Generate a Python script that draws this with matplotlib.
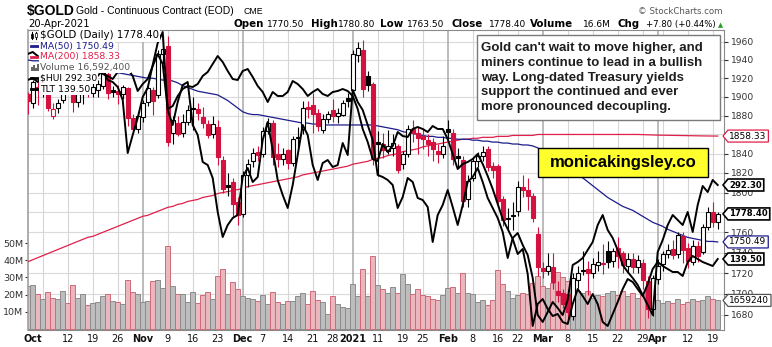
import numpy as np
import pandas as pd
import matplotlib
matplotlib.use("Agg")
import matplotlib.pyplot as plt
from matplotlib.patches import Polygon, Rectangle
from matplotlib.lines import Line2D
from matplotlib.ticker import NullLocator
from matplotlib.transforms import blended_transform_factory

W, H = 772, 347

# sessions shown (last September session sits half off the left edge)
closed = ["2020-11-26", "2020-12-25", "2021-01-01", "2021-01-18", "2021-02-15", "2021-04-02"]
dates = pd.bdate_range("2020-09-30", "2021-04-20")
dates = dates[~dates.isin(pd.to_datetime(closed))]

opens = [1903, 1893, 1910, 1906, 1920, 1880, 1888, 1897, 1930, 1925,
         1894, 1903, 1908, 1904, 1907, 1912, 1925, 1907, 1906, 1903,
         1909, 1877, 1866, 1878, 1894, 1907, 1902, 1946, 1955, 1862,
         1872, 1862, 1873, 1888, 1887, 1878, 1871, 1860, 1868, 1833,
         1808, 1811, 1790, 1778, 1818, 1832, 1842, 1840, 1864, 1872,
         1840, 1834, 1844, 1830, 1856, 1866, 1889, 1891, 1883, 1865,
         1876, 1886, 1879, 1881, 1899, 1907, 1945, 1951, 1922, 1914,
         1852, 1850, 1843, 1846, 1848, 1829, 1840, 1866, 1862, 1858,
         1854, 1852, 1843, 1840, 1866, 1862, 1838, 1833, 1793, 1815,
         1832, 1838, 1845, 1827, 1827, 1793, 1774, 1776, 1781, 1806,
         1803, 1797, 1758, 1725, 1722, 1726, 1703, 1701, 1700, 1679,
         1713, 1723, 1724, 1720, 1728, 1729, 1742, 1732, 1745, 1740,
         1727, 1734, 1726, 1730, 1712, 1685, 1714, 1729, 1739, 1744,
         1739, 1756, 1745, 1731, 1746, 1741, 1765, 1780, 1770.5]
highs = [1905, 1918, 1917, 1925, 1927, 1893, 1898, 1933, 1934, 1927,
         1906, 1912, 1916, 1918, 1918, 1932, 1928, 1912, 1913, 1913,
         1911, 1882, 1884, 1897, 1912, 1911, 1951, 1966, 1966, 1880,
         1880, 1882, 1891, 1900, 1893, 1889, 1875, 1880, 1875, 1838,
         1820, 1815, 1795, 1822, 1834, 1846, 1848, 1868, 1877, 1875,
         1851, 1846, 1845, 1858, 1868, 1895, 1895, 1904, 1887, 1882,
         1885, 1898, 1888, 1897, 1904, 1951, 1960, 1962, 1928, 1916,
         1864, 1862, 1865, 1860, 1850, 1843, 1870, 1875, 1868, 1867,
         1860, 1856, 1850, 1858, 1875, 1866, 1846, 1838, 1818, 1835,
         1842, 1848, 1848, 1831, 1829, 1797, 1784, 1790, 1812, 1818,
         1815, 1800, 1765, 1731, 1740, 1740, 1712, 1705, 1705, 1720,
         1727, 1742, 1732, 1735, 1742, 1748, 1751, 1745, 1755, 1742,
         1740, 1740, 1738, 1734, 1717, 1718, 1734, 1742, 1748, 1752,
         1760, 1760, 1749, 1752, 1751, 1768, 1785, 1790, 1780.8]
lows = [1882, 1888, 1891, 1900, 1885, 1876, 1883, 1893, 1918, 1884,
        1889, 1892, 1900, 1900, 1900, 1908, 1898, 1900, 1892, 1898,
        1869, 1860, 1862, 1873, 1890, 1881, 1899, 1935, 1848, 1850,
        1858, 1857, 1870, 1865, 1875, 1867, 1856, 1856, 1828, 1800,
        1797, 1775, 1767, 1775, 1806, 1826, 1832, 1836, 1860, 1828,
        1826, 1828, 1824, 1827, 1847, 1860, 1877, 1862, 1864, 1862,
        1872, 1873, 1872, 1879, 1889, 1904, 1938, 1900, 1906, 1828,
        1817, 1835, 1840, 1838, 1820, 1824, 1836, 1852, 1840, 1845,
        1838, 1832, 1830, 1835, 1855, 1828, 1826, 1785, 1785, 1812,
        1826, 1832, 1822, 1815, 1785, 1766, 1762, 1762, 1776, 1795,
        1782, 1770, 1717, 1715, 1718, 1705, 1692, 1686, 1676, 1675,
        1706, 1718, 1699, 1715, 1722, 1719, 1725, 1726, 1725, 1720,
        1720, 1720, 1720, 1705, 1677, 1679, 1709, 1722, 1735, 1734,
        1735, 1730, 1725, 1728, 1731, 1739, 1762, 1765, 1763.5]
closes = [1895, 1916, 1907, 1920, 1888, 1887, 1893, 1930, 1925, 1894,
          1903, 1908, 1906, 1911, 1914, 1927, 1904, 1905, 1903, 1910,
          1877, 1866, 1880, 1893, 1909, 1895, 1946, 1952, 1852, 1875,
          1861, 1873, 1886, 1887, 1883, 1872, 1859, 1871, 1836, 1804,
          1806, 1788, 1777, 1818, 1829, 1841, 1839, 1864, 1872, 1836,
          1834, 1840, 1830, 1855, 1857, 1888, 1887, 1882, 1869, 1876,
          1882, 1879, 1883, 1893, 1895, 1946, 1953, 1908, 1913, 1835,
          1850, 1844, 1848, 1851, 1823, 1840, 1866, 1862, 1856, 1855,
          1850, 1845, 1840, 1848, 1863, 1834, 1835, 1791, 1812, 1832,
          1838, 1842, 1826, 1823, 1791, 1772, 1773, 1777, 1806, 1803,
          1797, 1774, 1726, 1722, 1727, 1711, 1699, 1690, 1683, 1715,
          1720, 1722, 1720, 1729, 1731, 1730, 1731, 1742, 1737, 1728,
          1734, 1726, 1733, 1713, 1685, 1715, 1727, 1739, 1743, 1738,
          1757, 1743, 1732, 1746, 1737, 1765, 1780, 1770, 1778.4]
volume_m = [25.0, 25.7, 20.2, 17.3, 21.6, 17.8, 17.3, 22.2, 15.1, 25.7,
            18.0, 20.4, 13.7, 15.1, 15.7, 19.2, 20.4, 16.3, 15.9, 14.5,
            28.6, 21.6, 20.4, 15.7, 16.3, 28.0, 28.6, 23.9, 48.6, 25.1,
            20.4, 20.2, 15.7, 21.6, 15.1, 19.8, 21.6, 17.5, 31.0, 35.1,
            20.4, 27.5, 23.3, 19.2, 18.0, 17.5, 16.3, 19.8, 14.5, 21.6,
            15.7, 14.5, 16.3, 16.3, 19.2, 21.0, 14.5, 22.2, 16.9, 15.7,
            8.6, 19.2, 14.5, 12.7, 12.2, 26.3, 19.2, 35.1, 19.2, 42.7,
            25.7, 23.3, 21.0, 24.3, 21.2, 32.0, 26.0, 20.5, 23.5, 19.5,
            19.0, 17.5, 17.0, 20.0, 24.0, 24.5, 21.0, 32.5, 21.0, 20.5,
            15.5, 17.0, 14.0, 17.0, 34.5, 26.0, 22.0, 18.0, 20.0, 21.0,
            20.5, 27.0, 31.0, 25.0, 24.0, 27.0, 33.0, 30.0, 28.0, 27.0,
            22.0, 21.0, 22.0, 18.0, 20.0, 19.0, 21.0, 22.0, 19.5, 22.0,
            19.0, 21.0, 18.0, 20.0, 22.0, 21.0, 17.0, 15.0, 16.0, 15.0,
            17.5, 14.5, 15.5, 17.5, 16.0, 17.0, 19.0, 17.5, 16.5924]
ma50 = [1940, 1939, 1939, 1938, 1937, 1937, 1936, 1935, 1935, 1934,
        1933, 1932, 1932, 1931, 1930, 1929, 1928, 1927, 1926,
        1925, 1924, 1923, 1922, 1921, 1920, 1920, 1919, 1918, 1918,
        1917, 1915, 1912, 1910, 1908, 1906, 1905, 1904, 1903, 1902,
        1899, 1896, 1892, 1888, 1884, 1882, 1881, 1881, 1880, 1879,
        1878, 1877, 1876, 1875, 1874, 1873, 1872, 1872, 1871, 1871,
        1870, 1870, 1870, 1870, 1870, 1870, 1870, 1870, 1870, 1870,
        1870, 1869, 1868, 1867, 1866, 1865, 1863, 1862, 1861, 1860,
        1859, 1858, 1858, 1857, 1857, 1856, 1856, 1855, 1855, 1855,
        1854, 1854, 1853, 1853, 1852, 1852, 1851, 1851, 1850, 1850,
        1849, 1849, 1848, 1846, 1843, 1840, 1836, 1832, 1828, 1824,
        1821, 1818, 1815, 1811, 1807, 1803, 1799, 1795, 1792, 1789,
        1786, 1784, 1782, 1779, 1776, 1773, 1770, 1768, 1766, 1763,
        1761, 1759, 1757, 1755, 1754, 1753, 1752, 1751, 1751, 1750.49]
ma200 = [1731, 1733, 1735, 1737, 1739, 1741, 1743, 1745, 1747, 1749, 1751,
         1753, 1755, 1756, 1758, 1760, 1762, 1764, 1766, 1768, 1770,
         1772, 1774, 1776, 1777, 1779, 1781, 1783, 1785, 1786, 1788,
         1789, 1791, 1792, 1793, 1795, 1796, 1797, 1799, 1800, 1801,
         1802, 1803, 1804, 1806, 1807, 1808, 1809, 1810, 1811, 1812,
         1813, 1814, 1815, 1816, 1818, 1819, 1820, 1821, 1822, 1823,
         1824, 1825, 1826, 1827, 1829, 1830, 1831, 1832, 1834, 1835,
         1836, 1838, 1839, 1840, 1842, 1843, 1844, 1845, 1847, 1848,
         1849, 1850, 1851, 1852, 1853, 1854, 1855, 1855, 1856, 1856,
         1857, 1857, 1857, 1858, 1858, 1858, 1859, 1859, 1859, 1859,
         1859, 1860, 1860, 1860, 1860, 1860, 1860, 1860, 1860, 1860,
         1860, 1860, 1860, 1860, 1860, 1860, 1860, 1860, 1860, 1860,
         1860, 1860, 1859.8, 1859.6, 1859.5, 1859.3, 1859.2, 1859.0, 1858.9, 1858.8,
         1858.7, 1858.6, 1858.6, 1858.5, 1858.5, 1858.4, 1858.4, 1858.33]
hui = [334.3, 335.1, 333.5, 336.3, 331.1, 332.7, 334.3, 338.3, 337.5, 333.5,
       335.1, 334.3, 333.5, 335.1, 335.9, 338.3, 334.3, 333.5, 331.5, 326.3,
       305.1, 312.3, 319.1, 327.5, 331.1, 340.3, 349.1, 353.5, 322.3, 316.3,
       325.5, 332.3, 333.5, 316.3, 312.3, 301.5, 300.3, 295.1, 281.5, 271.5,
       276.3, 279.1, 280.3, 295.5, 299.1, 293.5, 295.5, 310.3, 317.5, 306.3,
       294.3, 288.3, 283.1, 292.3, 304.3, 316.3, 312.3, 300.3, 294.3, 301.1,
       302.3, 299.5, 300.3, 309.1, 304.3, 330.3, 325.5, 322.3, 316.3, 310.3,
       296.3, 295.5, 294.3, 292.3, 283.1, 287.5, 295.1, 293.5, 287.1, 286.3,
       283.5, 269.5, 280.3, 284.3, 290.3, 283.5, 276.3, 284.3, 293.5, 295.5,
       299.1, 293.5, 287.1, 283.1, 279.1, 273.5, 263.1, 271.1, 273.1, 268.3,
       264.3, 255.1, 240.3, 237.5, 241.5, 245.5, 243.1, 240.3, 246.3, 260.3,
       261.5, 263.1, 266.3, 269.5, 276.3, 280.3, 274.3, 271.1, 266.3, 260.3,
       257.5, 255.1, 252.3, 248.3, 244.3, 240.3, 265.5, 270.3, 276.3, 280.3,
       278.3, 276.3, 281.5, 273.5, 284.3, 291.9, 289.5, 294.3, 292.3]
tlt = [160.0, 160.2, 159.8, 159.5, 160.0, 159.2, 159.0, 158.8, 159.2, 159.5,
       159.8, 160.0, 159.5, 159.0, 158.8, 158.0, 157.8, 157.5, 158.2, 158.8,
       158.5, 157.8, 156.3, 157.0, 157.5, 158.8, 160.0, 159.0, 154.5, 154.8,
       155.8, 156.5, 156.8, 156.7, 157.0, 157.8, 158.2, 159.0, 159.8, 159.2,
       158.3, 157.5, 157.4, 158.3, 158.5, 157.7, 156.8, 156.2, 155.2, 156.2,
       155.8, 155.8, 156.2, 157.3, 157.0, 156.5, 155.8, 156.2, 156.5, 156.0,
       155.8, 156.2, 156.3, 156.5, 156.3, 155.8, 154.5, 152.5, 151.2, 149.5,
       149.3, 151.0, 150.2, 150.8, 152.2, 151.8, 151.7, 152.5, 152.7, 152.5,
       152.2, 152.8, 152.5, 152.5, 151.5, 150.0, 148.5, 149.0, 149.2, 149.5,
       150.0, 149.0, 147.8, 146.5, 145.0, 143.5, 142.5, 141.5, 140.0, 140.5,
       138.0, 132.8, 135.0, 135.5, 134.5, 133.8, 134.0, 133.2, 133.0, 135.0,
       136.5, 135.8, 135.0, 136.0, 135.0, 133.2, 132.8, 134.0, 135.2, 136.5,
       137.5, 137.2, 136.5, 135.8, 137.0, 138.5, 139.2, 138.8, 138.5, 138.2,
       138.2, 137.8, 139.2, 139.8, 139.5, 139.2, 139.0, 138.8, 139.5]

tick_dates = ["2020-10-01", "2020-10-12", "2020-10-19", "2020-10-26", "2020-11-02",
              "2020-11-09", "2020-11-16", "2020-11-23", "2020-12-01", "2020-12-07",
              "2020-12-14", "2020-12-21", "2020-12-28", "2021-01-04", "2021-01-11",
              "2021-01-19", "2021-01-25", "2021-02-01", "2021-02-08", "2021-02-16",
              "2021-02-22", "2021-03-01", "2021-03-08", "2021-03-15", "2021-03-22",
              "2021-03-29", "2021-04-01", "2021-04-12", "2021-04-19"]
tick_text = ["Oct", "12", "19", "26", "Nov", "9", "16", "23", "Dec", "7", "14", "21",
             "28", "2021", "11", "19", "25", "Feb", "8", "16", "22", "Mar", "8", "15",
             "22", "29", "Apr", "12", "19"]
bold_ticks = {"Oct", "Nov", "Dec", "2021", "Feb", "Mar", "Apr"}
price_ticks = list(range(1680, 1961, 20))
vol_ticks = [10, 20, 30, 40, 50]

note = ["Gold can't wait to move higher, and",
        "miners continue to lead in a bullish",
        "way. Long-dated Treasury yields",
        "support the continued and ever",
        "more pronounced decoupling."]

RED = "#d4123f"
x = np.arange(len(dates))
o, h, l, c = (np.array(a, float) for a in (opens, highs, lows, closes))
prev = np.r_[o[0], c[:-1]]
down = c < prev
col = np.where(down, RED, "black")


def fx(px):
    return px / W


def fy(py):
    return 1 - py / H


fig = plt.figure(figsize=(W / 100, H / 100), dpi=100)
L, R, T, B = 28.3, 724.3, 30.0, 330.0
rect = [fx(L), fy(B), (R - L) / W, (B - T) / H]
ax_vol = fig.add_axes(rect, zorder=1)
ax = fig.add_axes(rect, zorder=2, sharex=ax_vol)
ax_hui = fig.add_axes(rect, zorder=3, sharex=ax_vol)
ax_tlt = fig.add_axes(rect, zorder=3, sharex=ax_vol)
for a in (ax, ax_hui, ax_tlt):
    a.patch.set_visible(False)
    for s in a.spines.values():
        s.set_visible(False)
ax_hui.set_axis_off()
ax_tlt.set_axis_off()

ax_vol.set_xlim(0.12, 139.32)
ax_vol.set_ylim(-0.7, 174.7)
ax.set_yscale("log")
ax.set_ylim(1665.6, 1973.0)
ax_hui.set_ylim(234.3, 354.3)
ax_tlt.set_ylim(132.4, 162.4)

# grid: price levels, weekly and monthly separators (October's sits on the frame)
blend = blended_transform_factory(ax_vol.transAxes, ax.transData)
for p in price_ticks:
    ax_vol.plot([0, 1], [p, p], transform=blend, color="#dadada", lw=0.8, zorder=0)
wk = pd.Series(dates).dt.isocalendar().week.values
week_first = [i for i in range(1, len(dates)) if wk[i] != wk[i - 1]]
month_first = [i for i in range(2, len(dates)) if dates[i].month != dates[i - 1].month]
for i in week_first:
    if i not in month_first:
        ax_vol.axvline(i, color="#d6d6d6", lw=0.8, zorder=0)
for i in month_first:
    ax_vol.axvline(i, color="#a9a9a9", lw=1.1, zorder=0)

# volume
vfill = np.where(down, "#e9b7bd", "#bdbdbd")
vedge = np.where(down, "#d06a78", "#8c8c8c")
ax_vol.bar(x, volume_m, width=1.0, color=vfill, edgecolor=vedge, linewidth=0.7, zorder=1)

# moving averages
ax.plot(x, ma200, color="#e0204a", lw=0.9, zorder=2)
ax.plot(x, ma50, color="#1c1c8c", lw=0.9, zorder=2)

# candles: hollow when close > open, red when close < previous close
ax.vlines(x, l, h, colors=col, lw=0.8, zorder=3)
body_lo = np.minimum(o, c)
body_h = np.maximum(np.abs(c - o), 0.8)
face = np.where(c > o, "white", col)
ax.bar(x, body_h, bottom=body_lo, width=0.72, color=face, edgecolor=col, linewidth=0.8, zorder=4)

# overlays
ax_hui.plot(x, hui, color="black", lw=1.4, zorder=5)
ax_tlt.plot(x, tlt, color="black", lw=1.4, zorder=5)

# axes cosmetics; the 1780 and 1860 labels sit under the value tags
ax.yaxis.tick_right()
ax.set_yticks(price_ticks)
ax.set_yticklabels(["" if p in (1780, 1860) else str(p) for p in price_ticks])
ax.yaxis.set_minor_locator(NullLocator())
ax.tick_params(axis="y", which="major", labelsize=6.6, length=3, pad=1.5, colors="#333333")
ax.tick_params(axis="x", which="both", bottom=False, labelbottom=False)

ax_vol.set_yticks(vol_ticks)
ax_vol.set_yticklabels([f"{v}M" for v in vol_ticks])
ax_vol.tick_params(axis="y", labelsize=6.8, length=2.5, pad=1, colors="#333333")
pos = [dates.get_loc(pd.Timestamp(d)) for d in tick_dates]
ax_vol.set_xticks(pos)
ax_vol.set_xticklabels(tick_text)
ax_vol.tick_params(axis="x", labelsize=7, length=0, pad=3, colors="#111111")
for t in ax_vol.get_xticklabels():
    if t.get_text() in bold_ticks:
        t.set_fontweight("bold")
for s in ax_vol.spines.values():
    s.set_color("#8a8a8a")
    s.set_linewidth(0.8)
ax_vol.spines["left"].set_color("#a0a0a0")
ax_vol.spines["left"].set_linewidth(1.2)

# header
fig.text(fx(27), fy(15), "$GOLD", fontsize=10, fontweight="bold", family="Liberation Sans", va="baseline")
fig.text(fx(76), fy(14.5), "Gold - Continuous Contract (EOD)", fontsize=7.5, family="Liberation Sans", va="baseline")
fig.text(fx(243), fy(14.5), "CME", fontsize=6.3, family="Liberation Sans", va="baseline")
fig.text(fx(28), fy(27), "20-Apr-2021", fontsize=7.2, va="baseline")
fig.text(fx(723), fy(14), "\u00a9 StockCharts.com", fontsize=6.2, color="#555555", ha="right", va="baseline")
head = [(233, "Open", True, 7.4), (267, "1770.50", False, 6.5), (311, "High", True, 7.4),
        (338, "1780.80", False, 6.5), (380, "Low", True, 7.4), (407, "1763.50", False, 6.5),
        (452, "Close", True, 7.4), (489, "1778.40", False, 6.5), (530, "Volume", True, 7.4),
        (583, "16.6M", False, 6.5), (617, "Chg", True, 7.4), (646, "+7.80 (+0.44%)", False, 6.1)]
for px, s, b, fs in head:
    fig.text(fx(px), fy(27), s, fontsize=fs, fontweight="bold" if b else "normal", va="baseline")
fig.text(fx(718), fy(27), "\u25b2", fontsize=4.8, color="#2a9d2a", va="baseline")

# legend rows
rows = [("$GOLD (Daily) 1778.40", "black"), ("MA(50) 1750.49", "#1c1c8c"),
        ("MA(200) 1858.33", "#e0204a"), ("Volume 16,592,400", "#555555"),
        ("$HUI 292.30", "black"), ("TLT 139.50", "black")]
for k, (s, cl) in enumerate(rows):
    yc = 35.5 + 10.7 * k
    fig.text(fx(40), fy(yc), s, fontsize=7.4 if k == 0 else 6.7, color=cl, va="center", zorder=10,
             bbox=dict(boxstyle="square,pad=0.12", fc="white", ec="none"))
    if k in (1, 2, 4, 5):
        fig.add_artist(Line2D([fx(31), fx(38)], [fy(yc), fy(yc)], color=cl, lw=2, zorder=10))
fig.add_artist(Line2D([fx(32), fx(32)], [fy(32), fy(39)], color="black", lw=0.8, zorder=10))
fig.add_artist(Rectangle((fx(31), fy(37.5)), 2 / W, 4 / H, fc="black", ec="black", lw=0.5, transform=fig.transFigure, zorder=10))
fig.add_artist(Line2D([fx(36), fx(36)], [fy(31.5), fy(39)], color="black", lw=0.8, zorder=10))
fig.add_artist(Rectangle((fx(35), fy(37)), 2 / W, 4 / H, fc="white", ec="black", lw=0.5, transform=fig.transFigure, zorder=10))
for k, hh in enumerate((4, 6, 3, 7)):
    fig.add_artist(Rectangle((fx(31 + 2 * k), fy(71)), 1.5 / W, hh / H, fc="#666666", ec="none", transform=fig.transFigure, zorder=10))

# comment box and site banner
fig.add_artist(Rectangle((fx(477), fy(120)), 243 / W, 85 / H, fc="white", ec="#7a7a7a", lw=1.0, transform=fig.transFigure, zorder=9))
for k, s in enumerate(note):
    fig.text(fx(481), fy(51 + 14.8 * k), s, fontsize=9.5, fontweight="bold", family="Liberation Sans",
             color="#1e1e1e", va="baseline", zorder=10)
fig.add_artist(Rectangle((fx(538), fy(177)), 170 / W, 29 / H, fc="#ffff2e", ec="black", lw=1.0, transform=fig.transFigure, zorder=9))
fig.text(fx(623), fy(162.5), "monicakingsley.co", fontsize=12, fontweight="bold", family="Liberation Sans",
         ha="center", va="center", zorder=10)

# last-value tags on the right
renderer = fig.canvas.get_renderer()


def value_tag(axis, value, label, edge, weight="normal", lw=0.9):
    yd = axis.transData.transform((0, value))[1]
    py = H - yd
    t = fig.text(fx(729), fy(py), label, fontsize=6.1 if weight == "bold" else 6.5, fontweight=weight,
                 va="center", ha="left", zorder=12)
    bb = t.get_window_extent(renderer)
    x1 = min(bb.x1 + 2, W - 1)
    pts = [(723, py), (728, py - 6), (x1, py - 6), (x1, py + 6), (728, py + 6)]
    fig.add_artist(Polygon([(fx(a), fy(b)) for a, b in pts], closed=True, fc="white", ec=edge, lw=lw,
                           transform=fig.transFigure, zorder=11))


value_tag(ax, ma200[-1], f"{ma200[-1]:.2f}", "#e0204a")
value_tag(ax_hui, hui[-1], f"{hui[-1]:.2f}", "black", "bold", 1.2)
value_tag(ax, closes[-1], f"{closes[-1]:.2f}", "black", "bold", 1.2)
value_tag(ax, ma50[-1], f"{ma50[-1]:.2f}", "#1c1c8c")
value_tag(ax_tlt, tlt[-1], f"{tlt[-1]:.2f}", "black", "bold", 1.2)
value_tag(ax_vol, volume_m[-1], "1659240", "#555555")

fig.savefig("out.png", dpi=100)
